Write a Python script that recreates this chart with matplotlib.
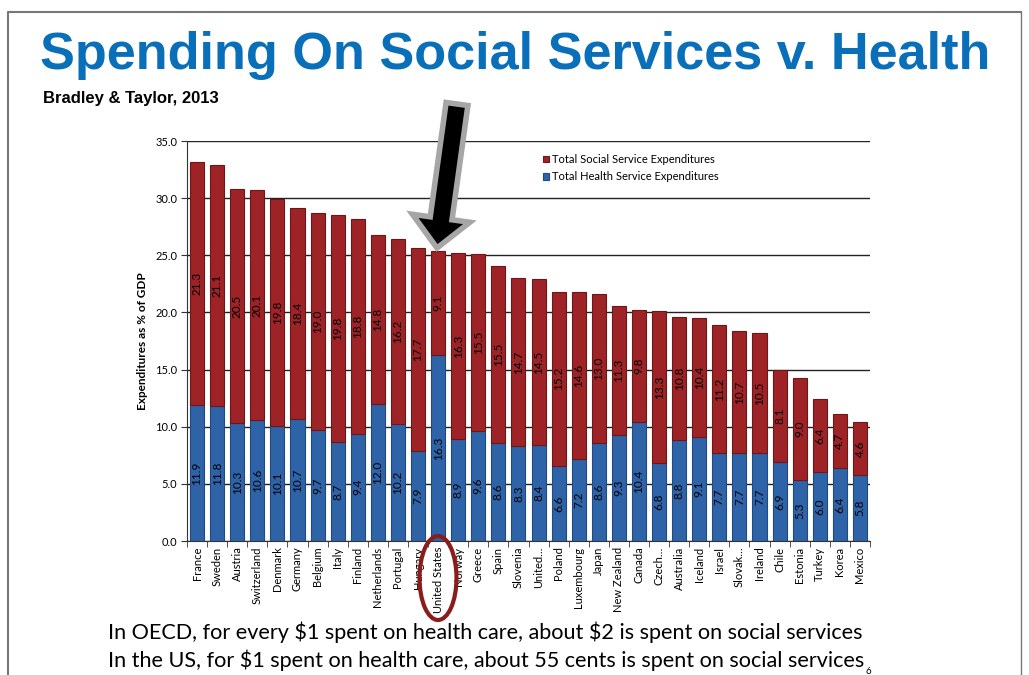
import matplotlib
matplotlib.use("Agg")
import matplotlib.pyplot as plt
import matplotlib.patches as patch
import numpy as np

countries = [
    "France", "Sweden", "Austria", "Switzerland", "Denmark", "Germany",
    "Belgium", "Italy", "Finland", "Netherlands", "Portugal", "Hungary",
    "United States", "Norway", "Greece", "Spain", "Slovenia", "United\u2026",
    "Poland", "Luxembourg", "Japan", "New Zealand", "Canada", "Czech\u2026",
    "Australia", "Iceland", "Israel", "Slovak\u2026", "Ireland", "Chile",
    "Estonia", "Turkey", "Korea", "Mexico",
]
health = [
    11.9, 11.8, 10.3, 10.6, 10.1, 10.7, 9.7, 8.7, 9.4, 12.0, 10.2, 7.9,
    16.3, 8.9, 9.6, 8.6, 8.3, 8.4, 6.6, 7.2, 8.6, 9.3, 10.4, 6.8,
    8.8, 9.1, 7.7, 7.7, 7.7, 6.9, 5.3, 6.0, 6.4, 5.8,
]
social = [
    21.3, 21.1, 20.5, 20.1, 19.8, 18.4, 19.0, 19.8, 18.8, 14.8, 16.2, 17.7,
    9.1, 16.3, 15.5, 15.5, 14.7, 14.5, 15.2, 14.6, 13.0, 11.3, 9.8, 13.3,
    10.8, 10.4, 11.2, 10.7, 10.5, 8.1, 9.0, 6.4, 4.7, 4.6,
]
yticks = [0, 5, 10, 15, 20, 25, 30, 35]

RED = "#9e2326"
BLUE = "#2f63a8"
TITLE_BLUE = "#0a6fb9"

plt.rcParams["font.family"] = ["Lato", "DejaVu Sans"]

fig = plt.figure(figsize=(10.29, 6.75), dpi=100)
ax = fig.add_axes([187 / 1029, 134 / 675, 683 / 1029, 400 / 675])

x = np.arange(len(countries))
hb = ax.bar(x, health, width=0.7, color=BLUE, edgecolor="#1d4a85",
            linewidth=0.8, label="Total Health Service Expenditures", zorder=3)
sb = ax.bar(x, social, width=0.7, bottom=health, color=RED,
            edgecolor="#6e1517", linewidth=0.8,
            label="Total Social Service Expenditures", zorder=3)
ax.bar_label(hb, fmt="%.1f", label_type="center", rotation=90, fontsize=8.5)
ax.bar_label(sb, fmt="%.1f", label_type="center", rotation=90, fontsize=8.5)

ax.set_xlim(-0.5, len(countries) - 0.5)
ax.set_ylim(0, 35)
ax.set_yticks(yticks)
ax.set_yticklabels([f"{v:.1f}" for v in yticks], fontsize=8)
ax.yaxis.grid(True, color="#222222", linewidth=1.0, zorder=0)
ax.set_axisbelow(True)

ax.set_xticks(x)
ax.set_xticklabels(countries, rotation=90, fontsize=8)
ax.tick_params(axis="x", length=0, pad=4)
ax.set_xticks(np.arange(-0.5, len(countries)), minor=True)
ax.tick_params(axis="x", which="minor", length=4, color="#333333")
ax.tick_params(axis="y", length=4, color="#333333", pad=3)
ax.set_ylabel("Expenditures as % of GDP", fontsize=8.5, fontweight="bold",
              labelpad=5)

for side in ("top", "right"):
    ax.spines[side].set_visible(False)
ax.spines["left"].set_color("#333333")
ax.spines["bottom"].set_color("#333333")

handles = [sb, hb]
leg = ax.legend(handles, [h.get_label() for h in handles], loc="upper left",
                bbox_to_anchor=(533 / 1029, 1 - 144 / 675),
                bbox_transform=fig.transFigure, frameon=False, fontsize=8,
                handlelength=0.55, handleheight=0.55, handletextpad=0.3,
                labelspacing=0.55)

# overlay in pixel coordinates for slide decorations
ov = fig.add_axes([0, 0, 1, 1], zorder=10)
ov.set_xlim(0, 1029)
ov.set_ylim(675, 0)
ov.axis("off")
ov.patch.set_alpha(0)

ov.plot([8, 8, 1021], [675, 12, 12], color="#777777", lw=1.5)
ov.plot([1021, 1021], [12, 675], color="#777777", lw=1.0)

ov.text(40, 56, "Spending On Social Services v. Health", fontsize=37.6,
        fontweight="bold", color=TITLE_BLUE, family="Liberation Sans",
        va="center", ha="left")
ov.text(43, 99, "Bradley & Taylor, 2013", fontsize=12, fontweight="bold",
        family="Liberation Sans", va="center", ha="left")

arrow = patch.FancyArrow(457, 104, -20, 144, width=22, head_width=58,
                         head_length=30, length_includes_head=True,
                         facecolor="black", edgecolor="#a6a6a6", linewidth=4,
                         joinstyle="miter")
ov.add_patch(arrow)

ov.add_patch(patch.Ellipse((438, 578), 37, 84, fill=False,
                           edgecolor="#8b1c1c", linewidth=3))

ov.text(108, 632, r"In OECD, for every \$1 spent on health care, about \$2 is spent on social services",
        fontsize=15.6, va="center", ha="left")
ov.text(108, 660, r"In the US, for \$1 spent on health care, about 55 cents is spent on social services",
        fontsize=15.6, va="center", ha="left")
ov.text(866, 676, "6", fontsize=7, va="bottom", ha="left")

fig.savefig("out.png", dpi=100)
